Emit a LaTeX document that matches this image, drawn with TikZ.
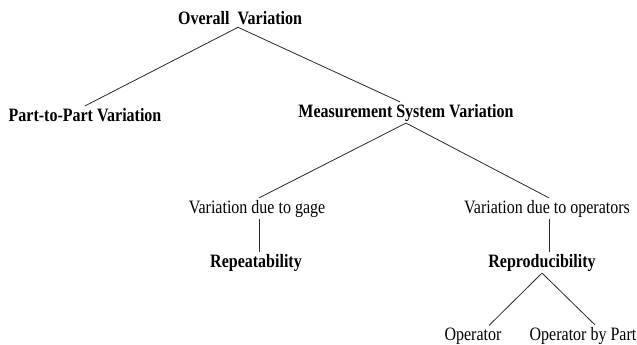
\documentclass[tikz,border=0pt]{standalone}
\usepackage{fontspec}
\setmainfont{Liberation Serif}
\usepackage{xcolor}
\usepackage{tikz}
\definecolor{linegray}{RGB}{40, 40, 40}

\begin{document}
\begin{tikzpicture}[x = 1pt, y = -1pt,
	lbl/.style = {font = \fontsize{16}{18}\selectfont, yscale = 1.18, inner sep = 1.5pt, anchor = base},
	hd/.style = {lbl, font = \fontsize{16}{18}\selectfont\bfseries},
	every edge/.style = {draw, linegray, line width = 0.8pt}]
		\useasboundingbox (0,0) rectangle (637,345);
		\node (ov) at (240,25) [hd] {Overall~~Variation};
		\node (pp) at (85,121) [hd] {Part-to-Part Variation};
		\node (ms) at (406,117) [hd] {Measurement System Variation};
		\node (gage) at (257,213) [lbl] {Variation due to gage};
		\node (oper) at (547,213) [lbl] {Variation due to operators};
		\node (rpt) at (256,267) [hd] {Repeatability};
		\node (rpd) at (542,267) [hd] {Reproducibility};
		\node (op) at (473,340) [lbl] {Operator};
		\node (opp) at (583,340) [lbl] {Operator by Part};
		\draw ([xshift = -2pt]ov.south) edge (pp.north);
		\draw ([xshift = -2pt]ov.south) edge ([xshift = -6pt]ms.north);
		\draw (ms.south) edge ([xshift = 2pt]gage.north);
		\draw (ms.south) edge ([xshift = 2pt]oper.north);
		\draw ([xshift = 2pt]gage.south) edge ([xshift = 2pt]gage.south |- rpt.north);
		\draw ([xshift = 2pt]oper.south) edge ([xshift = 2pt]oper.south |- rpd.north);
		\draw (rpd.south) edge ([xshift = 16pt]op.north);
		\draw (rpd.south) edge ([xshift = 12pt]opp.north);
		\end{tikzpicture}
\end{document}
